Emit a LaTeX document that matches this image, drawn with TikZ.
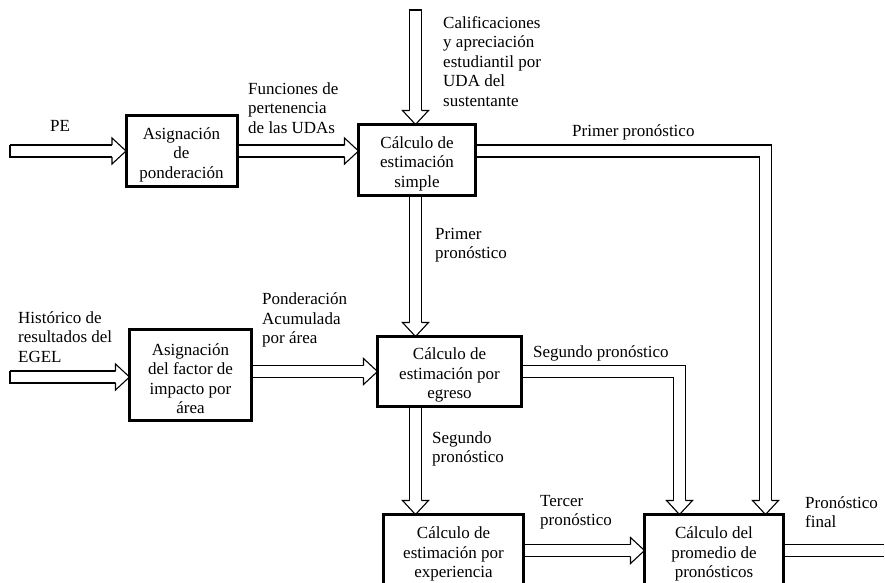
\documentclass[tikz,border=0pt]{standalone}
\usepackage{fontspec}
\setmainfont{Liberation Serif}
\usetikzlibrary{calc}
\pgfdeclarelayer{back}
\pgfdeclarelayer{bg}
\pgfsetlayers{back,bg,main}
\newcommand\hheadR[1]{\draw[arrline,fill=white] ($(#1)+(-14,-6)$) -- ($(#1)+(-14,-13)$) -- (#1) -- ($(#1)+(-14,13)$) -- ($(#1)+(-14,6)$);}
\newcommand\hheadD[1]{\draw[arrline,fill=white] ($(#1)+(-6,-14)$) -- ($(#1)+(-13,-14)$) -- (#1) -- ($(#1)+(13,-14)$) -- ($(#1)+(6,-14)$);}
\newcommand\tstrut{\rule{0pt}{19pt}}
\begin{document}
\begin{tikzpicture}[x=1pt,y=-1pt,
  box/.style={draw,line width=3pt,fill=white,align=center,inner sep=0pt,outer sep=0pt,font=\fontsize{17}{19.5}\selectfont},
  lbl/.style={align=left,inner sep=0pt,anchor=west,font=\fontsize{17}{19.5}\selectfont},
  arrline/.style={line width=1.1pt,black,line join=miter},
  shaft/.style={line width=1.1pt,double=white,double distance=10.9pt,shorten >=14pt,line join=miter}]
\useasboundingbox (0,0) rectangle (885,582);
\clip (0,0) rectangle (885,582);
\begin{pgfonlayer}{back}
\fill[white] (0,0) rectangle (885,582);
\end{pgfonlayer}

% boxes
\node[box,minimum width=111pt,minimum height=71pt] (b1) at (181.5,151) {\tstrut Asignación\\de\\ponderación};
\node[box,minimum width=117pt,minimum height=71pt] (b2) at (417,160) {\tstrut Cálculo de\\estimación\\simple};
\node[box,minimum width=122pt,minimum height=91pt] (b3) at (190.5,375) {\tstrut Asignación\\del factor de\\impacto por\\área};
\node[box,minimum width=144pt,minimum height=70pt] (b4) at (449.5,371.5) {\tstrut Cálculo de\\estimación por\\egreso};
\node[box,minimum width=140pt,minimum height=72pt] (b5) at (453.5,550.5) {\tstrut Cálculo de\\estimación por\\experiencia};
\node[box,minimum width=139pt,minimum height=72pt] (b6) at (714,550.5) {\tstrut Cálculo del\\promedio de\\pronósticos};

% labels
\node[lbl] (lpe) at (50,126) {PE};
\node[lbl] (lfun) at (248,108) {Funciones de\\pertenencia\\de las UDAs};
\node[lbl] (lcal) at (443,61.5) {Calificaciones\\y apreciación\\estudiantil por\\UDA del\\sustentante};
\node[lbl] (lp1a) at (572,132) {Primer pronóstico};
\node[lbl] (lp1b) at (435,245) {Primer\\pronóstico};
\node[lbl] (lhis) at (18,337) {Histórico de\\resultados del\\EGEL};
\node[lbl] (lpon) at (262,320) {Ponderación\\Acumulada\\por área};
\node[lbl] (lp2a) at (533,353) {Segundo pronóstico};
\node[lbl] (lp2b) at (432,449) {Segundo\\pronóstico};
\node[lbl] (lp3) at (540,512) {Tercer\\pronóstico};
\node[lbl] (lfin) at (805,512) {Pronóstico\\final};

% coordinates
\coordinate (pe) at (10,151);
\coordinate (hist) at (10,377);
\coordinate (top) at (415.5,10);
\coordinate (col) at (415.5,0);
\coordinate (c1) at (765.5,151);
\coordinate (c2) at (679.5,371.5);
\coordinate (out) at (884,550.5);
\coordinate (t1) at (b1.west);
\coordinate (s2) at (b1.east);
\coordinate (t2) at (b2.west |- b1.east);
\coordinate (t3) at (b2.north -| col);
\coordinate (s4) at (b2.south -| col);
\coordinate (t4) at (b4.north -| col);
\coordinate (s5) at (b2.east |- c1);
\coordinate (t5) at (b6.north -| c1);
\coordinate (s6) at (b4.east |- c2);
\coordinate (t6) at (b6.north -| c2);
\coordinate (s7) at (b3.east |- b4.west);
\coordinate (t7) at (b4.west);
\coordinate (t8) at (b3.west |- hist);
\coordinate (s9) at (b4.south -| col);
\coordinate (t9) at (b5.north -| col);
\coordinate (s10) at (b5.east);
\coordinate (t10) at (b6.west);
\coordinate (s11) at (b6.east);

\begin{pgfonlayer}{bg}
\draw[shaft] (pe) -- (t1); \hheadR{t1}
\draw[arrline] ($(pe)+(0,-6.5)$) -- ($(pe)+(0,6.5)$);
\draw[shaft] (s2) -- (t2); \hheadR{t2}
\draw[shaft] (top) -- (t3); \hheadD{t3}
\draw[arrline] ($(top)+(-6.5,0)$) -- ($(top)+(6.5,0)$);
\draw[shaft] (s4) -- (t4); \hheadD{t4}
\draw[shaft] (s5) -- (c1) -- (t5); \hheadD{t5}
\draw[shaft] (s6) -- (c2) -- (t6); \hheadD{t6}
\draw[shaft] (s7) -- (t7); \hheadR{t7}
\draw[shaft] (hist) -- (t8); \hheadR{t8}
\draw[arrline] ($(hist)+(0,-6.5)$) -- ($(hist)+(0,6.5)$);
\draw[shaft] (s9) -- (t9); \hheadD{t9}
\draw[shaft] (s10) -- (t10); \hheadR{t10}
\draw[shaft,shorten >=0pt] (s11) -- (out);
\end{pgfonlayer}
\end{tikzpicture}
\end{document}
